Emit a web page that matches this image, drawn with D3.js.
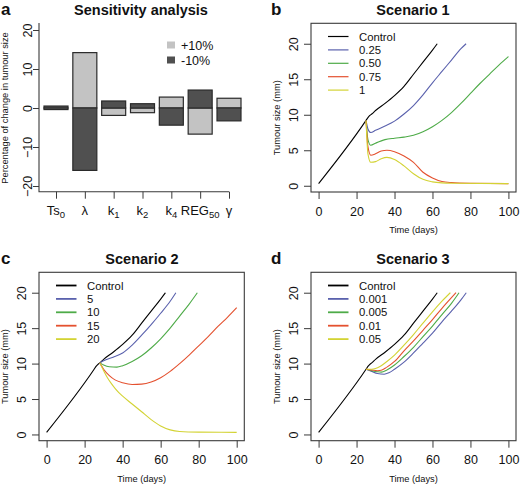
<!DOCTYPE html>
<html>
<head>
<meta charset="utf-8">
<script src="https://cdn.jsdelivr.net/npm/d3@7/dist/d3.min.js"></script>
<style>
  body { margin: 0; background: #fff; }
  text { font-family: "Liberation Sans", Arial, Helvetica, sans-serif; fill: #111; }
</style>
</head>
<body>
<script>
// ---------------- DATA ----------------
// Panel a: sensitivity analysis
const sensCategories = ["Ts0", "λ", "k1", "k2", "k4", "REG50", "γ"];
const sensPlus10  = [-0.4, 14.2, -1.9, -1.2, 2.8, -6.7, 2.5];
const sensMinus10 = [0.5, -16.0, 1.8, 1.1, -4.4, 4.6, -3.3];
const sensYTicks = [-20, -10, 0, 10, 20];
const sensLegend = ["+10%", "-10%"];

// Shared control curve
const controlT = [0, 25, 26, 27, 28, 30, 35, 40, 45, 50, 55, 60, 62.5];
const controlV = [0.3, 9.2, 9.6, 9.9, 10.1, 10.6, 11.6, 12.7, 14.0, 15.7, 17.4, 19.1, 20];

// Scenario 1
const s1Labels = ["Control", "0.25", "0.50", "0.75", "1"];
const s1_025_t = [25, 26, 27.5, 30, 35, 40, 45, 50, 55, 60, 65, 70, 75, 77.7];
const s1_025_v = [9.2, 8.0, 7.5, 7.8, 8.4, 9.1, 10.1, 11.3, 12.8, 14.5, 16.1, 17.7, 19.3, 20];
const s1_050_t = [25, 26, 27.5, 30, 35, 40, 45, 50, 55, 60, 65, 70, 75, 80, 85, 90, 95, 100];
const s1_050_v = [9.2, 6.5, 5.7, 6.0, 6.5, 6.7, 6.85, 7.1, 7.6, 8.3, 9.2, 10.3, 11.6, 13.0, 14.4, 15.7, 17.0, 18.2];
const s1_075_t = [25, 26, 27.5, 30, 33, 36, 40, 45, 50, 55, 60, 65, 70, 80, 100];
const s1_075_v = [9.2, 5.5, 4.3, 4.5, 4.9, 5.0, 4.8, 4.2, 3.3, 1.9, 1.1, 0.6, 0.45, 0.35, 0.3];
const s1_1_t = [25, 26, 27.5, 30, 33, 36, 40, 45, 50, 55, 60, 65, 70, 100];
const s1_1_v = [9.2, 4.5, 3.3, 3.4, 3.8, 4.0, 3.7, 2.8, 1.7, 0.9, 0.55, 0.4, 0.35, 0.3];

// Scenario 2
const s2Labels = ["Control", "5", "10", "15", "20"];
const s2_5_t = [28, 30, 35, 40, 45, 50, 55, 60, 65, 68];
const s2_5_v = [10.1, 10.4, 10.9, 11.5, 12.6, 14.0, 15.5, 17.1, 18.8, 20];
const s2_10_t = [28, 30, 33, 37, 40, 45, 50, 55, 60, 65, 70, 75, 79.3];
const s2_10_v = [10.1, 9.8, 9.55, 9.5, 9.7, 10.3, 11.1, 12.2, 13.5, 15.0, 16.7, 18.4, 20];
const s2_15_t = [28, 30, 33, 36, 40, 45, 50, 55, 60, 65, 70, 75, 80, 85, 90, 95, 100];
const s2_15_v = [10.1, 9.2, 8.3, 7.7, 7.3, 7.05, 7.1, 7.4, 8.0, 8.9, 10.0, 11.2, 12.5, 13.8, 15.2, 16.5, 17.9];
const s2_20_t = [28, 30, 32, 34, 36, 38, 40, 45, 50, 55, 60, 65, 70, 80, 100];
const s2_20_v = [10.1, 9.0, 8.0, 7.2, 6.5, 5.9, 5.4, 4.3, 3.2, 2.1, 1.2, 0.65, 0.42, 0.33, 0.3];

// Scenario 3
const s3Labels = ["Control", "0.001", "0.005", "0.01", "0.05"];
const s3_0001_t = [25, 28, 31, 34.5, 37, 40, 45, 50, 55, 60, 65, 70, 75, 77.8];
const s3_0001_v = [9.2, 8.9, 8.6, 8.5, 8.7, 9.2, 10.2, 11.5, 12.9, 14.3, 15.9, 17.4, 19.0, 20];
const s3_0005_t = [25, 28, 31, 33, 36, 40, 45, 50, 55, 60, 65, 70, 74];
const s3_0005_v = [9.2, 9.0, 8.85, 8.8, 9.1, 9.8, 11.0, 12.3, 13.8, 15.3, 16.9, 18.5, 20];
const s3_001_t = [25, 28, 31, 33, 36, 40, 45, 50, 55, 60, 65, 70, 72.4];
const s3_001_v = [9.2, 9.1, 9.0, 9.05, 9.5, 10.3, 11.8, 13.2, 14.7, 16.2, 17.8, 19.3, 20];
const s3_005_t = [25, 28, 30, 33, 36, 40, 45, 50, 55, 60, 65, 69.4];
const s3_005_v = [9.2, 9.2, 9.3, 9.7, 10.3, 11.2, 12.6, 14.1, 15.7, 17.3, 18.8, 20];

const timeTicks = [0, 20, 40, 60, 80, 100];
const sizeTicks = [0, 5, 10, 15, 20];
const seriesColors = ["#000000", "#5a61ad", "#4eab48", "#e4512f", "#d3d334"];

// ---------------- DRAW ----------------
const svg = d3.select("body").append("svg").attr("width", 520).attr("height", 484);
svg.append("rect").attr("width", 520).attr("height", 484).attr("fill", "#fff");
const axisColor = "#3a3a3a";
const fontFam = '"Liberation Sans", Arial, sans-serif';

// ---- Panel a ----
(function () {
  const g = svg.append("g");
  const ya = d3.scaleLinear().domain([-20, 20]).range([186, 30]);
  const xa = d3.scalePoint().domain(sensCategories).range([56, 229]);
  const barW = 24;
  const light = "#c3c3c3", dark = "#505050";
  const drawBars = (vals, fill) => {
    g.selectAll(null).data(sensCategories).enter().append("rect")
      .attr("x", d => xa(d) - barW / 2)
      .attr("width", barW)
      .attr("y", (d, i) => ya(Math.max(0, vals[i])))
      .attr("height", (d, i) => Math.abs(ya(vals[i]) - ya(0)))
      .attr("fill", fill).attr("stroke", "#2a2a2a").attr("stroke-width", 1.2);
  };
  drawBars(sensPlus10, light);
  drawBars(sensMinus10, dark);

  g.append("path").attr("d", `M39,23V191.7H229`).attr("fill", "none")
    .attr("stroke", axisColor).attr("stroke-width", 1.1);

  const yAx = g.append("g").attr("transform", "translate(39,0)")
    .call(d3.axisLeft(ya).tickValues(sensYTicks).tickSize(6).tickSizeOuter(0));
  yAx.select(".domain").remove();
  yAx.selectAll("line").attr("stroke", axisColor);
  yAx.selectAll("text").attr("x", 0).attr("y", 0).attr("dy", 0)
    .attr("transform", "translate(-7.5,0) rotate(-90)")
    .attr("text-anchor", "middle").style("font-size", "12.5px")
    .style("font-family", fontFam).attr("fill", "#111");

  const xAx = g.append("g").attr("transform", "translate(0,191.7)")
    .call(d3.axisBottom(xa).tickSize(7).tickSizeOuter(0).tickFormat(""));
  xAx.select(".domain").remove();
  xAx.selectAll("line").attr("stroke", axisColor);
  const catLabel = {
    "Ts0": ["Ts", "0"], "λ": ["λ", ""], "k1": ["k", "1"], "k2": ["k", "2"],
    "k4": ["k", "4"], "REG50": ["REG", "50"], "γ": ["γ", ""]
  };
  sensCategories.forEach(c => {
    const t = g.append("text").attr("x", xa(c)).attr("y", 215)
      .attr("text-anchor", "middle").style("font-size", "13px");
    t.append("tspan").text(catLabel[c][0]);
    if (catLabel[c][1]) t.append("tspan").attr("dy", 3).style("font-size", "9.5px").text(catLabel[c][1]);
  });

  svg.append("text").attr("x", 141).attr("y", 15).attr("text-anchor", "middle")
    .style("font-size", "14.5px").style("font-weight", "bold").text("Sensitivity analysis");
  svg.append("text").attr("x", 1).attr("y", 15)
    .style("font-size", "17px").style("font-weight", "bold").text("a");
  svg.append("text").attr("transform", "translate(8,108) rotate(-90)").attr("text-anchor", "middle")
    .style("font-size", "9.3px").text("Percentage of change in tumour size");

  const leg = g.append("g");
  sensLegend.forEach((lab, i) => {
    leg.append("rect").attr("x", 167).attr("y", 41.5 + i * 15).attr("width", 8).attr("height", 7)
      .attr("fill", i === 0 ? light : dark);
    leg.append("text").attr("x", 181).attr("y", 49.5 + i * 15).style("font-size", "12.5px").text(lab);
  });
})();

// ---- Line panels ----
function linePanel(o) {
  const g = svg.append("g");
  const xs = d3.scaleLinear().domain([-4, 104]).range([o.x0, o.x1]);
  const ys = d3.scaleLinear().domain([-0.88, 22.88]).range([o.y1, o.y0]);
  const line = d3.line().x(d => xs(d[0])).y(d => ys(d[1])).curve(d3.curveMonotoneX);

  o.series.forEach((s, i) => {
    const pts = s.t.map((t, k) => [t, s.v[k]]);
    g.append("path").attr("d", line(pts)).attr("fill", "none")
      .attr("stroke", seriesColors[i]).attr("stroke-width", 1.1);
  });

  g.append("rect").attr("x", o.x0).attr("y", o.y0).attr("width", o.x1 - o.x0).attr("height", o.y1 - o.y0)
    .attr("fill", "none").attr("stroke", axisColor).attr("stroke-width", 1.1);

  const xAx = g.append("g").attr("transform", `translate(0,${o.y1})`)
    .call(d3.axisBottom(xs).tickValues(timeTicks).tickSize(7).tickSizeOuter(0));
  xAx.select(".domain").remove();
  xAx.selectAll("line").attr("stroke", axisColor);
  xAx.selectAll("text").attr("y", 23.5).attr("dy", 0).style("font-size", "12.5px")
    .style("font-family", fontFam).attr("fill", "#111");

  const yAx = g.append("g").attr("transform", `translate(${o.x0},0)`)
    .call(d3.axisLeft(ys).tickValues(sizeTicks).tickSize(7).tickSizeOuter(0));
  yAx.select(".domain").remove();
  yAx.selectAll("line").attr("stroke", axisColor);
  yAx.selectAll("text").attr("x", 0).attr("y", 0).attr("dy", 0)
    .attr("transform", "translate(-13,0) rotate(-90)")
    .attr("text-anchor", "middle").style("font-size", "12.5px")
    .style("font-family", fontFam).attr("fill", "#111");

  g.append("text").attr("x", (xs(0) + xs(100)) / 2).attr("y", o.y1 + 41).attr("text-anchor", "middle")
    .style("font-size", "9.3px").text("Time (days)");
  g.append("text").attr("transform", `translate(${o.x0 - 31},${(ys(0) + ys(20)) / 2 + 3}) rotate(-90)`)
    .attr("text-anchor", "middle").style("font-size", "9.3px").text("Tumour size (mm)");

  g.append("text").attr("x", o.titleX).attr("y", o.y0 - 8.5).attr("text-anchor", "middle")
    .style("font-size", "14.5px").style("font-weight", "bold").text(o.title);
  g.append("text").attr("x", o.letterX).attr("y", o.y0 - 8.5)
    .style("font-size", "17px").style("font-weight", "bold").text(o.letter);

  o.labels.forEach((lab, i) => {
    const yy = o.y0 + 13.2 + i * 13.4;
    g.append("line").attr("x1", o.x0 + 17).attr("x2", o.x0 + 37.5).attr("y1", yy).attr("y2", yy)
      .attr("stroke", seriesColors[i]).attr("stroke-width", o.legW);
    g.append("text").attr("x", o.x0 + 48).attr("y", yy + 4).style("font-size", "11.3px").text(lab);
  });
}

linePanel({
  x0: 311, x1: 516, y0: 23.3, y1: 192, title: "Scenario 1", titleX: 413, letter: "b", letterX: 271, legW: 1.2,
  labels: s1Labels,
  series: [
    { t: controlT, v: controlV }, { t: s1_025_t, v: s1_025_v }, { t: s1_050_t, v: s1_050_v },
    { t: s1_075_t, v: s1_075_v }, { t: s1_1_t, v: s1_1_v }
  ]
});
linePanel({
  x0: 39, x1: 244.3, y0: 272.3, y1: 440.7, title: "Scenario 2", titleX: 142, letter: "c", letterX: 1, legW: 1.8,
  labels: s2Labels,
  series: [
    { t: controlT, v: controlV }, { t: s2_5_t, v: s2_5_v }, { t: s2_10_t, v: s2_10_v },
    { t: s2_15_t, v: s2_15_v }, { t: s2_20_t, v: s2_20_v }
  ]
});
linePanel({
  x0: 311, x1: 516, y0: 272.3, y1: 440.7, title: "Scenario 3", titleX: 413, letter: "d", letterX: 271, legW: 1.8,
  labels: s3Labels,
  series: [
    { t: controlT, v: controlV }, { t: s3_0001_t, v: s3_0001_v }, { t: s3_0005_t, v: s3_0005_v },
    { t: s3_001_t, v: s3_001_v }, { t: s3_005_t, v: s3_005_v }
  ]
});
</script>
</body>
</html>
